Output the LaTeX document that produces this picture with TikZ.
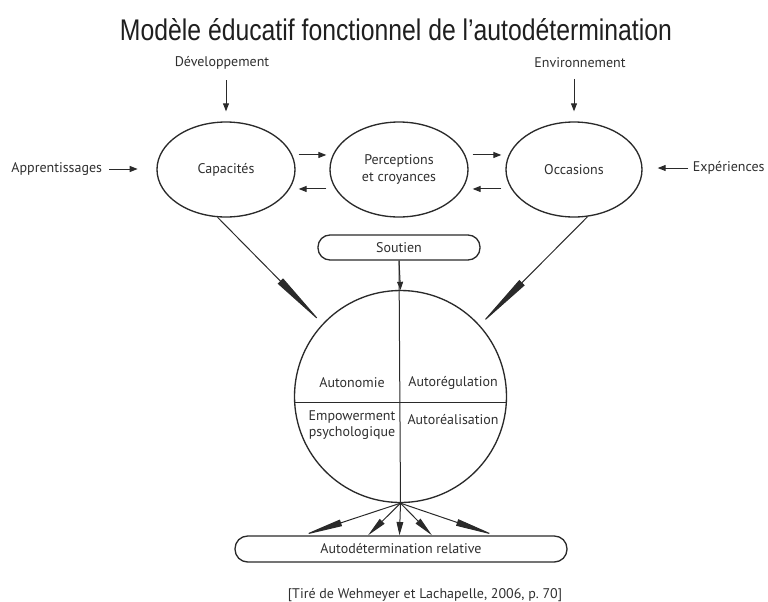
\documentclass[tikz,border=0pt]{standalone}
\usepackage{graphicx}
\usepackage{fontspec}
\setmainfont{PT Sans}
\newfontfamily\titlefont{Liberation Sans}
\usetikzlibrary{shapes.geometric,arrows.meta,calc}
\definecolor{ink}{HTML}{2A2A2A}
\definecolor{txt}{HTML}{2F2F2F}
\tikzset{
  lbl/.style={font=\fontsize{10.5}{12.5}\selectfont, text=txt, inner sep=2pt, align=center},
  ell/.style={draw=ink, line width=1pt, ellipse, inner sep=0pt, minimum height=71.25pt},
  pill/.style={draw=ink, line width=1pt, rounded corners=9pt, inner sep=0pt},
  arr/.style={draw=ink, line width=0.75pt, -{Triangle[length=6pt,width=4.5pt]}},
  wedge/.style={draw=ink, line width=0.75pt, -{Triangle[length=45pt,width=5.5pt]}},
  fan/.style={draw=ink, line width=0.75pt, -{Triangle[length=#1,width=5pt]}},
  plain/.style={draw=ink, line width=0.75pt}
}
\begin{document}
\begin{tikzpicture}[x=0.75pt,y=-0.75pt]
\useasboundingbox (0,0) rectangle (768,601);
% title
\node[anchor=base, inner sep=0pt, text=black!88] (title) at (396,40)
  {\resizebox{414pt}{16.5pt}{\titlefont Modèle éducatif fonctionnel de l’autodétermination}};
% side labels
\node[lbl] (dev) at (222,63) {Développement};
\node[lbl] (env) at (580,63) {Environnement};
\node[lbl, anchor=east] (app) at (105,169) {Apprentissages};
\node[lbl, anchor=west] (exp) at (690,168) {Expériences};
% ellipses
\node[ell, minimum width=103.5pt, lbl] (cap) at (226,169.5) {Capacités};
\node[ell, minimum width=103.5pt, lbl] (perc) at (399,169.5) {Perceptions\\et croyances};
\node[ell, minimum width=102pt, lbl] (occ) at (574,169.5) {Occasions};
% soutien, circle, bottom box
\node[pill, minimum width=121.5pt, minimum height=18.75pt, lbl] (sout) at (399,247.5) {Soutien};
\node[circle, draw=ink, line width=1pt, minimum size=159pt, inner sep=0pt] (circ) at (400.5,396.5) {};
\node[pill, rounded corners=9.5pt, minimum width=249pt, minimum height=19.5pt, lbl] (auto) at (401,549) {Autodétermination relative};
% citation
\node[lbl, anchor=base] (cite) at (425,598) {[Tiré de Wehmeyer et Lachapelle, 2006, p.~70]};
% texts in circle
\node[lbl] (autonomie) at (352,383) {Autonomie};
\node[lbl] (autoreg) at (453,383) {Autorégulation};
\node[lbl, align=center] (empow) at (352,425) {Empowerment\\psychologique};
\node[lbl] (autoreal) at (453,420) {Autoréalisation};
% input arrows
\draw[arr] ([yshift=-6pt]dev.south -| cap.north) -- ([yshift=7.5pt]cap.north);
\draw[arr] ([yshift=-6pt]env.south -| occ.north) -- ([yshift=7.5pt]occ.north);
\draw[arr, shorten <=3pt] (app.east) -- ([xshift=-14pt]app.east -| cap.west);
\draw[arr, shorten <=1.5pt] (exp.west) -- ([xshift=11.25pt]exp.west -| occ.east);
% between ellipses
\draw[arr] ([yshift=10.9pt,xshift=2.25pt]cap.east) -- ([yshift=10.9pt,xshift=-2.25pt]perc.west);
\draw[arr] ([yshift=-14.6pt,xshift=-2.25pt]perc.west) -- ([yshift=-14.6pt,xshift=2.25pt]cap.east);
\draw[arr] ([yshift=10.9pt,xshift=3pt]perc.east) -- ([yshift=10.9pt,xshift=-3pt]occ.west);
\draw[arr] ([yshift=-14.6pt,xshift=-3pt]occ.west) -- ([yshift=-14.6pt,xshift=3pt]perc.east);
% wedges to circle
\draw[wedge] (cap.-100) -- (circ.137);
\draw[wedge] (occ.-74) -- (circ.42);
% soutien line
\draw[plain] (sout.south) -- (circ.south);
\draw[arr] (sout.south) -- (circ.north);
% divider
\draw[plain] ($(circ.center)+(-105.8,5.5)$) -- ($(circ.center)+(105.8,5.5)$);
% fan
\coordinate (f1) at ($(auto.north)+(-98,0)$);
\coordinate (f2) at ($(auto.north)+(-33,0)$);
\coordinate (f3) at ($(auto.north)+(-1.5,0)$);
\coordinate (f4) at ($(auto.north)+(31,0)$);
\coordinate (f5) at ($(auto.north)+(94,0)$);
\draw[fan=30pt] (circ.south) -- (f1);
\draw[fan=15pt] (circ.south) -- (f2);
\draw[fan=10pt] (circ.south) -- (f3);
\draw[fan=15pt] (circ.south) -- (f4);
\draw[fan=30pt] (circ.south) -- (f5);
\end{tikzpicture}
\end{document}
